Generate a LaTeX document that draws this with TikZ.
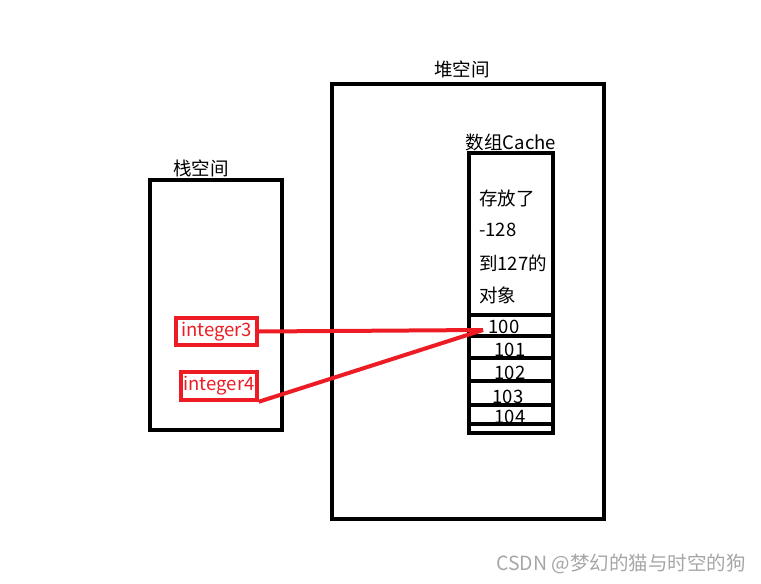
\documentclass[tikz,border=0pt]{standalone}
\usepackage{fontspec}
\setmainfont{Noto Sans CJK SC}
\usetikzlibrary{positioning}
\definecolor{linkred}{RGB}{237,28,36}
\begin{document}
\begin{tikzpicture}[x=1pt,y=-1pt,
  wall/.style={draw=black,line width=4pt},
  box/.style={wall,rectangle,inner sep=0pt},
  var/.style={
    draw=linkred,
    line width=3.5pt,
    rectangle,
    inner sep=0pt,
    text=linkred,
    font=\fontsize{18.5}{20}\selectfont
  },
  lbl/.style={inner sep=0pt,font=\fontsize{18.5}{20}\selectfont},
  link/.style={draw=linkred,line width=4pt}
]
\useasboundingbox (0,0) rectangle (761,584);
% the two memory areas
\node[box,minimum width=272pt,minimum height=435pt] (heap) at (468,301.5) {};
\node[box,minimum width=132pt,minimum height=250pt] (stack) at (216,305) {};
\node[lbl] (heaplbl) at (462,69) {堆空间};
\node[lbl] (stacklbl) at (201,168) {栈空间};
% the cache array
\node[box,minimum width=84pt,minimum height=280pt] (cache) at (511,293) {};
\node[lbl] (cachelbl) at (511,142) {数组Cache};
\node[lbl,anchor=west] (t1) at (479,198) {存放了};
\node[lbl,anchor=west] (t2) at (479,230) {-128};
\node[lbl,anchor=west] (t3) at (479,263) {到127的};
\node[lbl,anchor=west] (t4) at (479,295) {对象};
\foreach \y in {315,336,358,381,405,424}
  \draw[wall] (469,\y) -- (553,\y);
\node[lbl] (c100) at (504,327) {100};
\node[lbl] (c101) at (510,350) {101};
\node[lbl] (c102) at (510,373) {102};
\node[lbl] (c103) at (508,397) {103};
\node[lbl] (c104) at (510,417) {104};
% the variables
\node[var,minimum width=81pt,minimum height=27pt] (int3) at (216.5,331.5) {integer3};
\node[var,minimum width=76pt,minimum height=28pt] (int4) at (219,386) {integer4};
\coordinate (hit) at (483,330);
\draw[link] (int3.east) -- (hit);
\draw[link] (int4.south east) -- (hit);
% watermark
\node[inner sep=0pt,text=gray!70,font=\fontsize{19.5}{21}\selectfont] (mark) at (621,564) {CSDN @梦幻的猫与时空的狗};
\end{tikzpicture}
\end{document}
